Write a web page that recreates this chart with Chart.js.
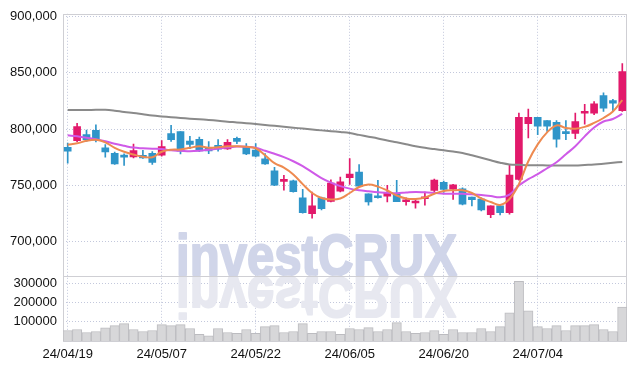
<!DOCTYPE html>
<html>
<head>
<meta charset="utf-8">
<script src="https://cdn.jsdelivr.net/npm/chart.js@4.4.1/dist/chart.umd.min.js"></script>
<style>
  html, body { margin: 0; padding: 0; background: #fff; }
</style>
</head>
<body>
<canvas id="chart" width="636" height="369"></canvas>
<script>
// 일자 (거래일)
const dates = [
  '24/04/19','24/04/22','24/04/23','24/04/24','24/04/25','24/04/26','24/04/29','24/04/30','24/05/02','24/05/03',
  '24/05/07','24/05/08','24/05/09','24/05/10','24/05/13','24/05/14','24/05/16','24/05/17','24/05/20','24/05/21',
  '24/05/22','24/05/23','24/05/24','24/05/27','24/05/28','24/05/29','24/05/30','24/05/31','24/06/03','24/06/04',
  '24/06/05','24/06/07','24/06/10','24/06/11','24/06/12','24/06/13','24/06/14','24/06/17','24/06/18','24/06/19',
  '24/06/20','24/06/21','24/06/24','24/06/25','24/06/26','24/06/27','24/06/28','24/07/01','24/07/02','24/07/03',
  '24/07/04','24/07/05','24/07/08','24/07/09','24/07/10','24/07/11','24/07/12','24/07/15','24/07/16','24/07/17'
];

// 시가 / 고가 / 저가 / 종가
const openPrices = [
  783900, 789800, 795100, 798900, 783300, 778600, 775900, 775300, 776800, 778600,
  776800, 796100, 797800, 789400, 791000, 783300, 785700, 782400, 791800, 784500,
  781500, 773600, 763000, 753600, 754100, 739100, 725000, 739100, 735900, 745000,
  756800, 761800, 742600, 740000, 740400, 742600, 735500, 734400, 738200, 745600,
  752700, 746800, 747100, 739700, 738000, 724100, 731800, 725900, 755400, 804800,
  810400, 807500, 806000, 796900, 796200, 814100, 814200, 829800, 825400, 816300
];
const highPrices = [
  787700, 805100, 799200, 803900, 786300, 779700, 778000, 786800, 781200, 780000,
  789800, 803300, 797900, 793600, 793000, 788900, 790700, 790700, 793000, 787200,
  787200, 778300, 766200, 758900, 754700, 746500, 744200, 739700, 755000, 757400,
  773900, 768600, 742600, 754500, 750100, 754500, 739100, 737700, 744200, 755600,
  753900, 750900, 748000, 739700, 739100, 731800, 733300, 768000, 814200, 817700,
  810400, 807500, 807500, 807500, 814200, 822100, 824500, 832200, 826500, 858300
];
const lowPrices = [
  769800, 788900, 789200, 788600, 775100, 768600, 767700, 774400, 773900, 768600,
  776100, 789200, 778000, 782700, 780000, 778300, 780400, 781900, 787200, 777400,
  775300, 768600, 749700, 745900, 744000, 725300, 720900, 728300, 735300, 744200,
  750900, 748800, 732400, 738800, 735300, 735500, 732400, 729800, 732400, 742600,
  743900, 737700, 732800, 731800, 727400, 721500, 723800, 724500, 754700, 792100,
  795100, 798000, 783900, 790700, 791600, 804500, 812800, 815700, 815700, 815700
];
const closePrices = [
  780400, 802200, 790700, 790100, 779800, 769100, 775100, 781000, 774400, 770400,
  784500, 790700, 780500, 786500, 780600, 780600, 782200, 788300, 789200, 778000,
  775900, 769100, 750300, 755400, 744400, 725900, 731800, 729400, 752100, 753200,
  760000, 749400, 735300, 739100, 743300, 735500, 737300, 736200, 740000, 754700,
  746500, 750600, 733300, 737300, 728300, 731800, 725900, 759200, 810400, 810400,
  802700, 802700, 791200, 796000, 806600, 815500, 822500, 818600, 823000, 851000
];

// 이동평균선
const maShort = [
  786100, 787400, 789600, 790500, 788300, 783400, 779900, 777400, 775500, 775100,
  779900, 781700, 781900, 783400, 784800, 783400, 783900, 784800, 784800, 784300,
  783000, 776800, 769800, 765800, 759800, 751200, 743300, 738900, 737500, 738400,
  743300, 748600, 750800, 749000, 745500, 741100, 738400, 738000, 739300, 742600,
  745000, 745700, 745700, 743300, 738400, 735300, 732700, 738000, 751200, 771500,
  786500, 797100, 803300, 801100, 800400, 802000, 805500, 809900, 815700, 825800
];
const maMid = [
  794500, 793600, 792300, 791000, 789200, 787000, 785200, 783600, 783000, 782600,
  782400, 781200, 780800, 780400, 780800, 781700, 782700, 783600, 784500, 784300,
  783400, 780800, 778100, 775100, 771500, 767100, 761800, 756500, 752500, 749400,
  747200, 745700, 744800, 744000, 743500, 743100, 743700, 744200, 743900, 743500,
  742600, 742600, 742600, 742100, 741500, 740600, 739500, 741900, 749900, 755600,
  760000, 765300, 770600, 777700, 784800, 793600, 801500, 806800, 809000, 813500
];
const maLong = [
  817000, 817000, 817000, 817200, 817200, 816400, 815200, 814300, 813200, 812100,
  811300, 810600, 809900, 809300, 808700, 808200, 807500, 806600, 806000, 805300,
  804500, 803700, 802900, 802100, 801300, 800500, 799700, 798900, 798200, 797400,
  796500, 794900, 793300, 791700, 789900, 788300, 786600, 784900, 783400, 782300,
  781200, 780100, 778900, 776800, 774600, 772400, 770200, 768600, 768300, 768000,
  768000, 767800, 767700, 767700, 767800, 768200, 768600, 769300, 770100, 770900
];

// 거래량
const volumes = [
  54900, 60000, 44600, 49700, 68700, 80500, 90800, 60000, 49700, 54900,
  85600, 80500, 85600, 65100, 34400, 27500, 65100, 44600, 39500, 60000,
  39500, 75400, 80500, 44600, 49700, 90800, 39500, 49700, 49700, 34400,
  65100, 60000, 70300, 49700, 60000, 95900, 49700, 39500, 44600, 54900,
  34400, 60000, 44600, 44600, 65100, 49700, 75400, 147200, 311300, 157400,
  75400, 65100, 80500, 54900, 80500, 80500, 85600, 60000, 49700, 177900
];

const priceTicks = [700000, 750000, 800000, 850000, 900000];
const volumeTicks = [100000, 200000, 300000];

const UP_COLOR = '#e2196b';
const DOWN_COLOR = '#2f95c9';
const GRID_COLOR = '#c3c8dc';
const FRAME_COLOR = '#cfcfd4';
const TICK_FONT = { family: 'Liberation Sans', size: 13 };

const candleColors = openPrices.map((o, i) => closePrices[i] >= o ? UP_COLOR : DOWN_COLOR);
const wickData = lowPrices.map((l, i) => [l, highPrices[i]]);
const bodyData = openPrices.map((o, i) => [o, closePrices[i]]);

/**
 * 워터마크와 패널 테두리를 그리는 플러그인
 */
const framePlugin = {
  id: 'frame',
  beforeDatasetsDraw: (chart) => {
    const ctx = chart.ctx;
    const area = chart.chartArea;
    const sep = chart.scales.y.bottom;
    ctx.save();
    ctx.beginPath();
    ctx.rect(area.left, area.top, area.right - area.left, area.bottom - area.top);
    ctx.clip();
    // 워터마크 (반사 포함)
    ctx.font = 'bold 57px "Liberation Sans"';
    const text = 'investCRUX';
    const w = ctx.measureText(text).width;
    ctx.translate(176, sep - 1);
    ctx.scale(281 / w, 1);
    ctx.textBaseline = 'alphabetic';
    ctx.lineJoin = 'round';
    ctx.lineWidth = 2;
    ctx.fillStyle = ctx.strokeStyle = '#d0d5e9';
    ctx.strokeText(text, 0, 0);
    ctx.fillText(text, 0, 0);
    ctx.scale(1, -1);
    ctx.fillStyle = ctx.strokeStyle = '#e7e8f0';
    ctx.strokeText(text, 0, -2);
    ctx.fillText(text, 0, -2);
    ctx.restore();

    ctx.save();
    ctx.strokeStyle = FRAME_COLOR;
    ctx.lineWidth = 1;
    ctx.strokeRect(Math.round(area.left) + 0.5, Math.round(area.top) + 0.5,
      Math.round(area.right - area.left) - 1, Math.round(area.bottom - area.top));
    ctx.beginPath();
    ctx.moveTo(area.left, Math.round(sep) + 0.5);
    ctx.lineTo(area.right, Math.round(sep) + 0.5);
    ctx.stroke();
    ctx.restore();
  }
};

new Chart(document.getElementById('chart').getContext('2d'), {
  data: {
    labels: dates,
    datasets: [
      {
        type: 'line', data: maShort, yAxisID: 'y', order: 0,
        borderColor: '#ee8a50', borderWidth: 2, pointRadius: 0, tension: 0.4
      },
      {
        type: 'line', data: maMid, yAxisID: 'y', order: 0,
        borderColor: '#cf5ae8', borderWidth: 2, pointRadius: 0, tension: 0.4
      },
      {
        type: 'line', data: maLong, yAxisID: 'y', order: 0,
        borderColor: '#8a8a8a', borderWidth: 2, pointRadius: 0, tension: 0.4
      },
      {
        type: 'bar', data: bodyData, yAxisID: 'y', order: 1, grouped: false,
        backgroundColor: candleColors, barThickness: 7, minBarLength: 2
      },
      {
        type: 'bar', data: wickData, yAxisID: 'y', order: 2, grouped: false,
        backgroundColor: candleColors, barThickness: 1
      },
      {
        type: 'bar', data: volumes, yAxisID: 'yv', order: 3, grouped: false,
        backgroundColor: '#d7d7d9', borderColor: '#bcbcc0', borderWidth: 1,
        barPercentage: 1, categoryPercentage: 1
      }
    ]
  },
  options: {
    responsive: false,
    animation: false,
    layout: { padding: { top: 12, right: 9, left: 0, bottom: 0 } },
    plugins: { legend: { display: false }, tooltip: { enabled: false } },
    scales: {
      x: {
        type: 'category',
        offset: true,
        grid: { offset: false, color: GRID_COLOR, drawTicks: false },
        border: { display: false, dash: [1, 2] },
        ticks: {
          autoSkip: false, maxRotation: 0, padding: 6,
          color: '#111', font: TICK_FONT,
          callback: (v, i) => i % 10 === 0 ? dates[i] : null
        },
        afterFit: (s) => { s.height = 28; }
      },
      // 왼쪽 스택은 나중에 정의된 축이 위에 놓인다
      yv: {
        position: 'left', stack: 'panel', stackWeight: 1,
        min: 0, max: 342000,
        grid: { color: GRID_COLOR, drawTicks: false },
        border: { display: false, dash: [1, 2] },
        ticks: {
          autoSkip: false, padding: 6, color: '#111', font: TICK_FONT,
          callback: (v) => String(v)
        },
        afterBuildTicks: (s) => { s.ticks = volumeTicks.map(v => ({ value: v })); },
        afterFit: (s) => { s.width = 63; }
      },
      y: {
        position: 'left', stack: 'panel', stackWeight: 4,
        min: 670000, max: 902400,
        grid: { color: GRID_COLOR, drawTicks: false },
        border: { display: false, dash: [1, 2] },
        ticks: {
          autoSkip: false, padding: 6, color: '#111', font: TICK_FONT,
          callback: (v) => v.toLocaleString('en-US')
        },
        afterBuildTicks: (s) => { s.ticks = priceTicks.map(v => ({ value: v })); },
        afterFit: (s) => { s.width = 63; }
      }
    }
  },
  plugins: [framePlugin]
});
</script>
</body>
</html>
